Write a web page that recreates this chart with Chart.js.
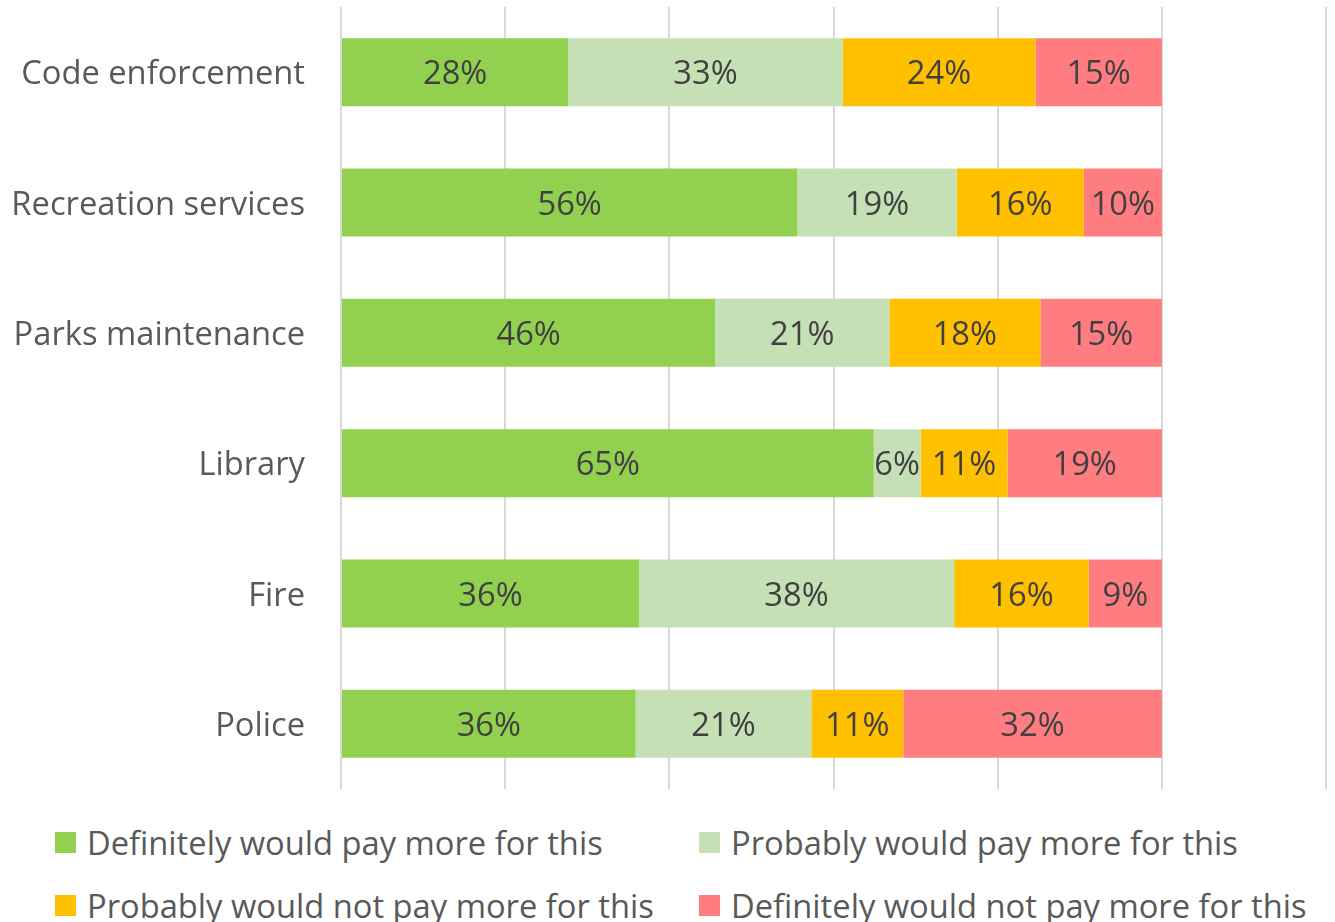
<!DOCTYPE html>
<html>
<head>
<meta charset="utf-8">
<script src="https://cdn.jsdelivr.net/npm/chart.js@4"></script>
<style>
    html, body { margin: 0; padding: 0; background: #ffffff; }
    #wrap { position: relative; width: 1335px; height: 922px; overflow: hidden; }
    #chart { position: absolute; left: 0; top: 0; }
    .legend-item {
        position: absolute;
        display: flex;
        align-items: center;
        height: 21px;
        font-family: "Open Sans", sans-serif;
        font-size: 32.7px;
        color: #595959;
        white-space: nowrap;
    }
    .legend-item .box { width: 21px; height: 21px; margin-right: 11px; flex: none; }
</style>
</head>
<body>
<div id="wrap">
    <canvas id="chart" width="1335" height="800"></canvas>
    <div id="legend"></div>
</div>
<script>
// 数据
const categories = ['Code enforcement', 'Recreation services', 'Parks maintenance', 'Library', 'Fire', 'Police'];
const seriesNames = [
    'Definitely would pay more for this',
    'Probably would pay more for this',
    'Probably would not pay more for this',
    'Definitely would not pay more for this'
];
const definitelyPay = [27.7, 55.6, 45.6, 64.9, 36.3, 35.9];
const probablyPay   = [33.4, 19.4, 21.2, 5.7, 38.4, 21.4];
const probablyNot   = [23.5, 15.5, 18.4, 10.6, 16.4, 11.2];
const definitelyNot = [15.4, 9.5, 14.8, 18.8, 8.9, 31.5];
const seriesColors = ['#92D050', '#C5E0B4', '#FFC000', '#FF7C80'];
const xMax = 120;
const xStep = 20;

// 条形内的百分比标签
const barLabels = {
    id: 'barLabels',
    afterDatasetsDraw(chart) {
        const ctx = chart.ctx;
        ctx.save();
        ctx.font = '32.7px "Open Sans", sans-serif';
        ctx.fillStyle = '#404040';
        ctx.textAlign = 'center';
        ctx.textBaseline = 'middle';
        chart.data.datasets.forEach((ds, i) => {
            const meta = chart.getDatasetMeta(i);
            meta.data.forEach((el, j) => {
                const cx = (el.x + el.base) / 2;
                ctx.fillText(Math.round(ds.data[j]) + '%', cx, el.y + 3);
            });
        });
        ctx.restore();
    }
};

const seriesData = [definitelyPay, probablyPay, probablyNot, definitelyNot];

new Chart(document.getElementById('chart').getContext('2d'), {
    type: 'bar',
    data: {
        labels: categories,
        datasets: seriesNames.map((name, i) => ({
            label: name,
            data: seriesData[i],
            backgroundColor: seriesColors[i],
            borderWidth: 0,
            barPercentage: 0.522,
            categoryPercentage: 1
        }))
    },
    options: {
        indexAxis: 'y',
        responsive: false,
        animation: false,
        layout: { padding: { left: 0, right: 9, top: 7, bottom: 11 } },
        scales: {
            x: {
                stacked: true,
                min: 0,
                max: xMax,
                ticks: { display: false, stepSize: xStep },
                grid: { color: '#D9D9D9', lineWidth: 2, drawTicks: false },
                border: { display: false },
                afterFit(scale) { scale.height = 0; }
            },
            y: {
                stacked: true,
                ticks: {
                    padding: 36,
                    labelOffset: 3,
                    color: '#595959',
                    font: { family: '"Open Sans", sans-serif', size: 32.7 }
                },
                grid: { display: false, drawTicks: false },
                border: { display: false },
                afterFit(scale) {
                    scale.width = 341;
                    scale.paddingTop = 0;
                    scale.paddingBottom = 0;
                }
            }
        },
        plugins: {
            legend: { display: false },
            tooltip: { enabled: false }
        }
    },
    plugins: [barLabels]
});

// 图例
const legendPos = [[55, 832], [699, 832], [55, 895], [699, 895]];
const legendEl = document.getElementById('legend');
seriesNames.forEach((name, i) => {
    const item = document.createElement('div');
    item.className = 'legend-item';
    item.style.left = legendPos[i][0] + 'px';
    item.style.top = legendPos[i][1] + 'px';
    item.innerHTML = '<span class="box" style="background:' + seriesColors[i] + '"></span><span>' + name + '</span>';
    legendEl.appendChild(item);
});
</script>
</body>
</html>
